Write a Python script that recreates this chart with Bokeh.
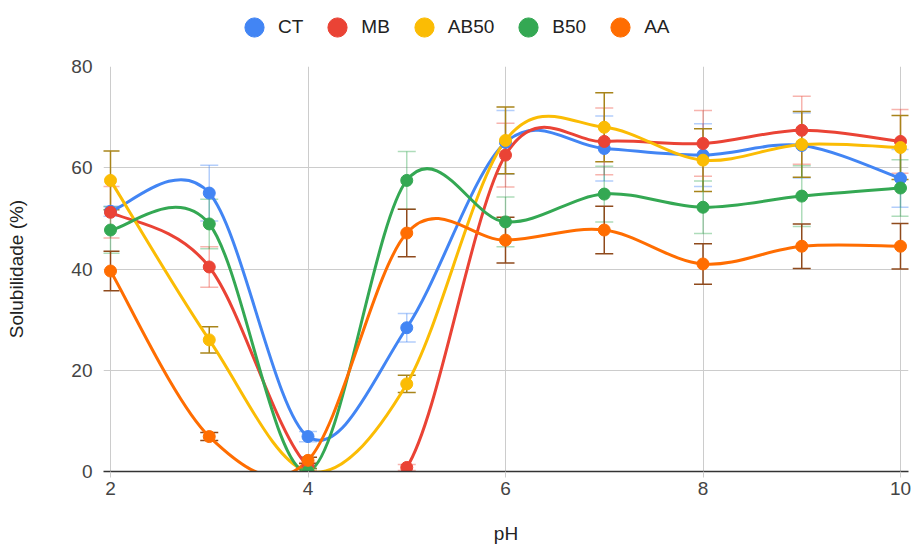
import numpy as np
from bokeh.plotting import figure
from bokeh.layouts import column
from bokeh.models import (ColumnDataSource, Range1d, FixedTicker, Legend, LegendItem,
                          Whisker, TeeHead)
from bokeh.embed import file_html
from bokeh.resources import INLINE

# ---- data ----
ph = [2, 3, 4, 5, 6, 7, 8, 9, 10]
names = ["CT", "MB", "AB50", "B50", "AA"]
ct = [51.4, 55.0, 6.9, 28.4, 65.0, 63.8, 62.5, 64.4, 57.9]
ct_err = [1.0, 5.5, 1.0, 2.8, 6.3, 6.4, 6.2, 6.4, 5.7]
mb = [51.2, 40.4, 1.0, 0.8, 62.5, 65.2, 64.8, 67.4, 65.2]
mb_err = [5.1, 4.0, 0.8, 0.6, 6.3, 6.6, 6.5, 6.7, 6.3]
ab50 = [57.5, 26.0, 0.0, 17.3, 65.4, 68.0, 61.5, 64.6, 64.0]
ab50_err = [5.8, 2.6, 0.6, 1.7, 6.6, 6.8, 6.2, 6.5, 6.3]
b50 = [47.7, 48.9, 0.0, 57.5, 49.3, 54.8, 52.2, 54.4, 56.0]
b50_err = [4.6, 4.9, 0.6, 5.7, 4.9, 5.5, 5.2, 6.0, 5.6]
aa = [39.6, 6.9, 2.2, 47.1, 45.7, 47.7, 41.0, 44.5, 44.5]
aa_err = [3.9, 0.8, 0.6, 4.7, 4.5, 4.7, 4.0, 4.4, 4.5]

x_ticks = [2, 4, 6, 8, 10]
y_ticks = [0, 20, 40, 60, 80]

colors = ["#4285F4", "#EA4335", "#FBBC04", "#34A853", "#FF6D01"]
err_colors = ["#4285F4", "#EA4335", "#A8841A", "#34A853", "#8F4A1C"]
err_alpha = [0.4, 0.4, 1.0, 0.4, 1.0]
values = [ct, mb, ab50, b50, aa]
errors = [ct_err, mb_err, ab50_err, b50_err, aa_err]

FONT = "Liberation Sans"
W = 913

# ---- legend strip ----
lf = figure(width=W, height=54, output_backend="svg", toolbar_location=None,
            x_axis_type=None, y_axis_type=None,
            x_range=Range1d(-10, -9), y_range=Range1d(-10, -9),
            min_border_left=0, min_border_right=0, min_border_top=0, min_border_bottom=0)
lf.outline_line_color = None
lf.xgrid.visible = False
lf.ygrid.visible = False
items = []
for name, vals, c in zip(names, values, colors):
    # renderer only used for its legend glyph; its points lie outside the strip's range
    r = lf.scatter(ph, vals, marker="circle", size=12, fill_color=c, line_color=c)
    items.append(LegendItem(label=name, renderers=[r]))
legend = Legend(items=items, orientation="horizontal", location=(127, 3),
                glyph_width=48, glyph_height=48, label_standoff=0, spacing=10,
                padding=0, margin=0, border_line_color=None, background_fill_alpha=0,
                label_text_font=FONT, label_text_font_size="19px",
                label_text_color="#222222", label_text_baseline="middle")
lf.add_layout(legend)

# ---- main chart ----
p = figure(width=W, height=546 - 54, output_backend="svg", toolbar_location=None,
           x_range=Range1d(2 - 7 / 98.75, 10 + 8 / 98.75), y_range=Range1d(0, 80),
           min_border_left=103, min_border_right=5, min_border_top=12, min_border_bottom=74)
p.outline_line_color = None
p.background_fill_color = "white"

p.xgrid.grid_line_color = "#cccccc"
p.ygrid.grid_line_color = "#cccccc"

p.xaxis.ticker = FixedTicker(ticks=x_ticks)
p.yaxis.ticker = FixedTicker(ticks=y_ticks)
p.xaxis.axis_line_color = "#333333"
p.xaxis.axis_line_width = 1.5
p.xaxis.major_tick_line_color = "#cccccc"
p.xaxis.major_tick_out = 6
p.xaxis.major_tick_in = 0
p.xaxis.minor_tick_line_color = None
p.xaxis.major_label_standoff = 4
p.yaxis.axis_line_color = None
p.yaxis.major_tick_line_color = None
p.yaxis.minor_tick_line_color = None
p.yaxis.major_tick_out = 0
p.yaxis.major_tick_in = 0
p.yaxis.major_label_standoff = 11

for ax in (p.xaxis, p.yaxis):
    ax.major_label_text_font = FONT
    ax.major_label_text_font_size = "19px"
    ax.major_label_text_color = "#444444"
    ax.axis_label_text_font = FONT
    ax.axis_label_text_font_size = "19px"
    ax.axis_label_text_font_style = "normal"
    ax.axis_label_text_color = "#222222"
p.xaxis.axis_label = "pH"
p.yaxis.axis_label = "Solubilidade (%)"
p.xaxis.axis_label_standoff = 25
p.yaxis.axis_label_standoff = 41

# error bars (under the lines)
for vals, errs, ec, ea in zip(values, errors, err_colors, err_alpha):
    up = [v + e for v, e in zip(vals, errs)]
    lo = [v - e for v, e in zip(vals, errs)]
    src = ColumnDataSource(dict(x=ph, upper=up, lower=lo))
    w = Whisker(source=src, base="x", upper="upper", lower="lower",
                line_color=ec, line_alpha=ea, line_width=1.5, level="underlay",
                upper_head=TeeHead(size=18, line_color=ec, line_alpha=ea, line_width=1.5),
                lower_head=TeeHead(size=18, line_color=ec, line_alpha=ea, line_width=1.5))
    p.add_layout(w)


def smooth_segments(xs, ys):
    pts = np.column_stack([xs, ys]).astype(float)
    n = len(pts)
    segs = dict(x0=[], y0=[], x1=[], y1=[], cx0=[], cy0=[], cx1=[], cy1=[])
    for i in range(n - 1):
        p0 = pts[i - 1] if i > 0 else pts[i]
        p1 = pts[i]
        p2 = pts[i + 1]
        p3 = pts[i + 2] if i + 2 < n else pts[i + 1]
        c1 = p1 + (p2 - p0) / 6.0
        c2 = p2 - (p3 - p1) / 6.0
        segs["x0"].append(p1[0]); segs["y0"].append(p1[1])
        segs["x1"].append(p2[0]); segs["y1"].append(p2[1])
        segs["cx0"].append(c1[0]); segs["cy0"].append(c1[1])
        segs["cx1"].append(c2[0]); segs["cy1"].append(c2[1])
    return segs


for vals, c in zip(values, colors):
    src = ColumnDataSource(smooth_segments(ph, vals))
    p.bezier(x0="x0", y0="y0", x1="x1", y1="y1", cx0="cx0", cy0="cy0",
             cx1="cx1", cy1="cy1", source=src, line_color=c, line_width=3,
             line_cap="round")

for vals, c in zip(values, colors):
    p.scatter(ph, vals, marker="circle", size=12, fill_color=c, line_color=c)

layout = column(lf, p, spacing=0)
open("out.html", "w").write(file_html(layout, INLINE))
